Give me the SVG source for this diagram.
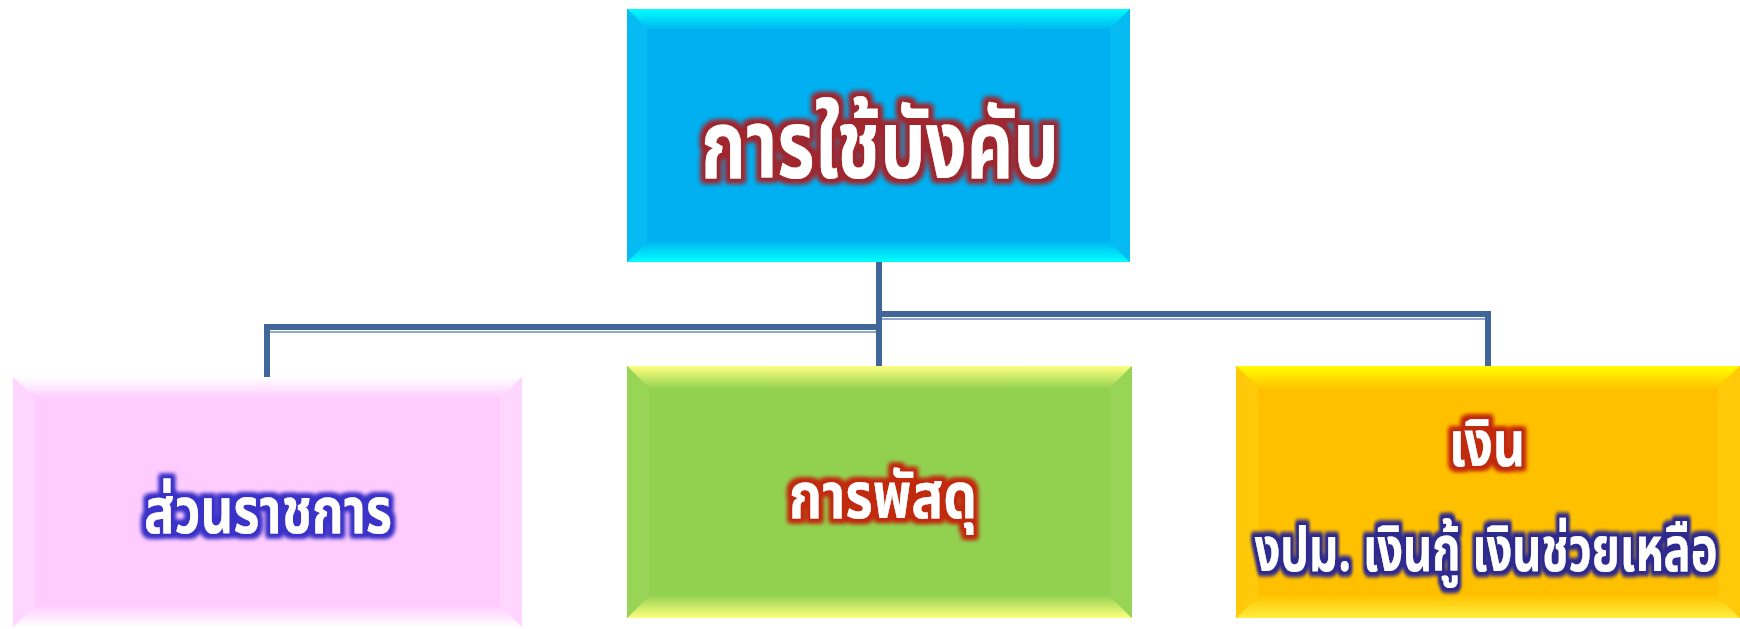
<svg xmlns="http://www.w3.org/2000/svg" width="1740" height="629" viewBox="0 0 1740 629">
<style>
.t{font-family:"Noto Sans Thai","Noto Sans","DejaVu Sans",sans-serif;font-weight:bold;fill:#ffffff;text-anchor:middle}
.conn{stroke:#41679A;stroke-width:6;fill:none;stroke-linecap:square}
.connHi{stroke:#8FA8C8;stroke-width:2;fill:none}
</style>
<defs>
<linearGradient id="cyTop" x1="0" y1="0" x2="0" y2="1"><stop offset="0" stop-color="#00FFFF"/><stop offset="1" stop-color="#00B8F0"/></linearGradient>
<linearGradient id="cyBot" x1="0" y1="0" x2="0" y2="1"><stop offset="0" stop-color="#00B8F0"/><stop offset="1" stop-color="#00FFFF"/></linearGradient>
<linearGradient id="grTop" x1="0" y1="0" x2="0" y2="1"><stop offset="0" stop-color="#FFFF80"/><stop offset="1" stop-color="#98D452"/></linearGradient>
<linearGradient id="grBot" x1="0" y1="0" x2="0" y2="1"><stop offset="0" stop-color="#98D452"/><stop offset="1" stop-color="#FFFF80"/></linearGradient>
<linearGradient id="yeTop" x1="0" y1="0" x2="0" y2="1"><stop offset="0" stop-color="#FFFF00"/><stop offset="1" stop-color="#FFC400"/></linearGradient>
<linearGradient id="yeBot" x1="0" y1="0" x2="0" y2="1"><stop offset="0" stop-color="#FFC400"/><stop offset="1" stop-color="#FFEE40"/></linearGradient>
<linearGradient id="pkTop" x1="0" y1="0" x2="0" y2="1"><stop offset="0" stop-color="#FFFFFF"/><stop offset="1" stop-color="#FFCCFF"/></linearGradient>
<linearGradient id="pkBot" x1="0" y1="0" x2="0" y2="1"><stop offset="0" stop-color="#FFCCFF"/><stop offset="1" stop-color="#FFFFFF"/></linearGradient>
<filter id="gRed" x="-10%" y="-40%" width="120%" height="180%">
<feMorphology in="SourceAlpha" operator="dilate" radius="4" result="d"/>
<feGaussianBlur in="d" stdDeviation="2.5" result="b"/>
<feFlood flood-color="#A1262E"/>
<feComposite in2="b" operator="in" result="g"/>
<feMerge><feMergeNode in="g"/><feMergeNode in="g"/><feMergeNode in="SourceGraphic"/></feMerge>
</filter>
<filter id="gOr" x="-10%" y="-40%" width="120%" height="180%">
<feMorphology in="SourceAlpha" operator="dilate" radius="3.5" result="d"/>
<feGaussianBlur in="d" stdDeviation="2.2" result="b"/>
<feFlood flood-color="#C22A10"/>
<feComposite in2="b" operator="in" result="g"/>
<feMerge><feMergeNode in="g"/><feMergeNode in="g"/><feMergeNode in="SourceGraphic"/></feMerge>
</filter>
<filter id="gBlue" x="-10%" y="-40%" width="120%" height="180%">
<feMorphology in="SourceAlpha" operator="dilate" radius="3.5" result="d"/>
<feGaussianBlur in="d" stdDeviation="2.2" result="b"/>
<feFlood flood-color="#3A32C8"/>
<feComposite in2="b" operator="in" result="g"/>
<feMerge><feMergeNode in="g"/><feMergeNode in="g"/><feMergeNode in="SourceGraphic"/></feMerge>
</filter>
<filter id="gNavy" x="-5%" y="-40%" width="110%" height="180%">
<feMorphology in="SourceAlpha" operator="dilate" radius="3.5" result="d"/>
<feGaussianBlur in="d" stdDeviation="2.2" result="b"/>
<feFlood flood-color="#2E2A90"/>
<feComposite in2="b" operator="in" result="g"/>
<feMerge><feMergeNode in="g"/><feMergeNode in="g"/><feMergeNode in="SourceGraphic"/></feMerge>
</filter>
</defs>

<g id="connectors">
<line class="conn" x1="879" y1="262" x2="879" y2="364" stroke="#2E4F78"/>
<polyline class="conn" points="879,327 267,327 267,376"/>
<polyline class="conn" points="879,314 1488,314 1488,364"/>
<line class="connHi" x1="882" y1="319" x2="1485" y2="319"/>
<line class="connHi" x1="270" y1="332" x2="876" y2="332"/>
</g>

<g id="node-top">
<rect x="627" y="9" width="503" height="253" fill="#00B0F0"/>
<polygon points="627,9 1130,9 1110,29 647,29" fill="url(#cyTop)"/>
<polygon points="627,262 1130,262 1110,242 647,242" fill="url(#cyBot)"/>
<polygon points="627,9 647,29 647,242 627,262" fill="#06BAF2"/>
<polygon points="1130,9 1110,29 1110,242 1130,262" fill="#06BAF2"/>
<text class="t" x="880" y="178" font-size="96" textLength="358" lengthAdjust="spacingAndGlyphs" filter="url(#gRed)">การใช้บังคับ</text>
</g>

<g id="node-left">
<rect x="13" y="377" width="509" height="250" fill="#FFCCFF"/>
<polygon points="13,377 522,377 500,399 35,399" fill="url(#pkTop)"/>
<polygon points="13,627 522,627 500,605 35,605" fill="url(#pkBot)"/>
<polygon points="13,377 35,399 35,605 13,627" fill="#FFD6FF"/>
<polygon points="522,377 500,399 500,605 522,627" fill="#FFD6FF"/>
<text class="t" x="268" y="533" font-size="64" textLength="248" lengthAdjust="spacingAndGlyphs" filter="url(#gBlue)">ส่วนราชการ</text>
</g>

<g id="node-mid">
<rect x="627" y="366" width="505" height="252" fill="#92D050"/>
<polygon points="627,366 1132,366 1110,388 649,388" fill="url(#grTop)"/>
<polygon points="627,618 1132,618 1110,596 649,596" fill="url(#grBot)"/>
<polygon points="627,366 649,388 649,596 627,618" fill="#98D456"/>
<polygon points="1132,366 1110,388 1110,596 1132,618" fill="#98D456"/>
<text class="t" x="883" y="518" font-size="64" textLength="188" lengthAdjust="spacingAndGlyphs" filter="url(#gOr)">การพัสดุ</text>
</g>

<g id="node-right">
<rect x="1236" y="366" width="504" height="252" fill="#FFC000"/>
<polygon points="1236,366 1740,366 1718,388 1258,388" fill="url(#yeTop)"/>
<polygon points="1236,618 1740,618 1718,596 1258,596" fill="url(#yeBot)"/>
<polygon points="1236,366 1258,388 1258,596 1236,618" fill="#FFC808"/>
<polygon points="1740,366 1718,388 1718,596 1740,618" fill="#FFC808"/>
<text class="t" x="1487" y="466" font-size="64" textLength="76" lengthAdjust="spacingAndGlyphs" filter="url(#gOr)">เงิน</text>
<text class="t" x="0" y="0" font-size="62" transform="translate(1486,571) scale(0.73,1)" filter="url(#gNavy)">งปม. เงินกู้ เงินช่วยเหลือ</text>
</g>
</svg>
